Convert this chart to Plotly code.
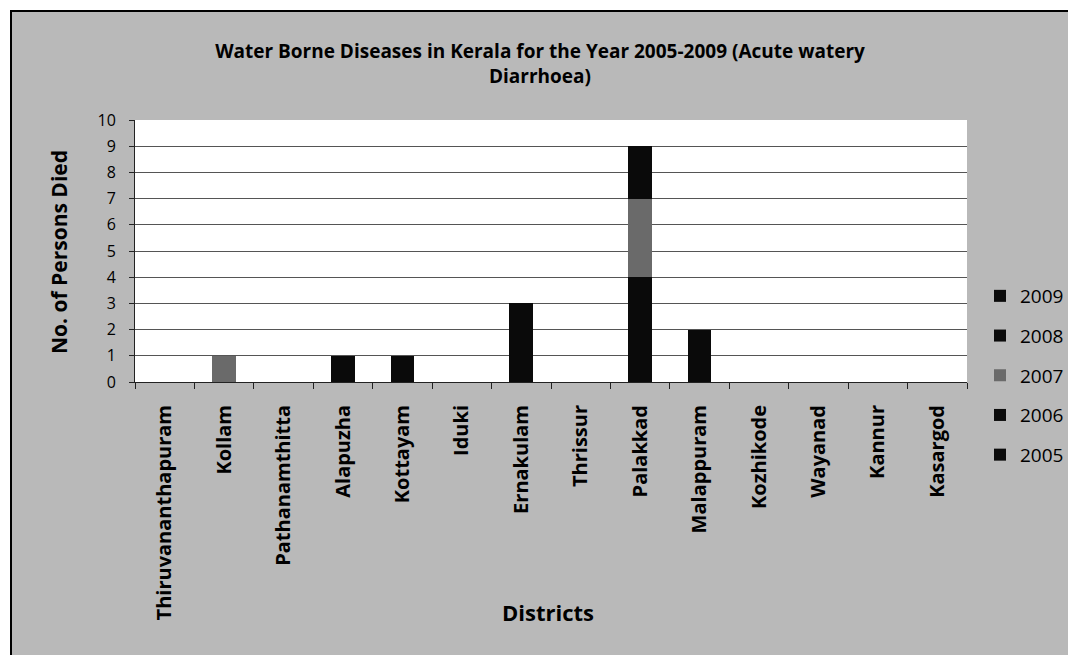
import plotly.graph_objects as go

districts = ["Thiruvananthapuram", "Kollam", "Pathanamthitta", "Alapuzha", "Kottayam",
             "Iduki", "Ernakulam", "Thrissur", "Palakkad", "Malappuram", "Kozhikode",
             "Wayanad", "Kannur", "Kasargod"]
years = ["2005", "2006", "2007", "2008", "2009"]
deaths_2005 = [0, 0, 0, 1, 1, 0, 3, 0, 2, 2, 0, 0, 0, 0]
deaths_2006 = [0, 0, 0, 0, 0, 0, 0, 0, 2, 0, 0, 0, 0, 0]
deaths_2007 = [0, 1, 0, 0, 0, 0, 0, 0, 3, 0, 0, 0, 0, 0]
deaths_2008 = [0, 0, 0, 0, 0, 0, 0, 0, 1, 0, 0, 0, 0, 0]
deaths_2009 = [0, 0, 0, 0, 0, 0, 0, 0, 1, 0, 0, 0, 0, 0]
y_ticks = list(range(0, 11))

series = [deaths_2005, deaths_2006, deaths_2007, deaths_2008, deaths_2009]
colors = ["#0a0a0a", "#0a0a0a", "#6a6a6a", "#0a0a0a", "#0a0a0a"]
ranks = [5, 4, 3, 2, 1]

FONT = "Open Sans"

fig = go.Figure()
for yr, vals, col, rk in zip(years, series, colors, ranks):
    fig.add_trace(go.Bar(
        x=districts, y=vals, name=yr, legendgroup=yr, legendrank=rk,
        marker=dict(color=col, line=dict(width=0)),
    ))

# plot area in pixels: left 135, right 967, top 120, bottom 382
L, R, T, B = 135, 967, 120, 382
W, H = 1068, 655
pw, ph = R - L, B - T

def px(x):
    return (x - L) / pw

def py(y):
    return (B - y) / ph

fig.update_layout(
    width=W, height=H,
    margin=dict(l=L, r=W - R, t=T, b=H - B, pad=0, autoexpand=False),
    paper_bgcolor="white",
    plot_bgcolor="rgba(0,0,0,0)",
    barmode="stack",
    bargap=0.6,
    font=dict(family=FONT, color="black"),
    title=dict(
        text="<b>Water Borne Diseases in Kerala for the Year 2005-2009 (Acute watery<br>Diarrhoea)</b>",
        x=540 / W, xanchor="center", xref="container",
        y=1 - 58 / H, yanchor="top", yref="container",
        font=dict(family=FONT, size=19, color="black"),
    ),
    legend=dict(
        x=px(980), xanchor="left", y=py(277), yanchor="top",
        traceorder="grouped", tracegroupgap=12,
        font=dict(family=FONT, size=19, color="black"),
        bgcolor="rgba(0,0,0,0)", itemwidth=30,
    ),
    xaxis=dict(
        automargin=False,
        showline=True, linecolor="#222", linewidth=1,
        ticks="outside", tickson="boundaries", ticklen=6, tickcolor="#222",
        tickangle=-90, tickfont=dict(family=FONT, size=20, color="black", weight="bold"),
        ticklabelstandoff=14,
        showgrid=False,
    ),
    yaxis=dict(
        automargin=False,
        range=[0, 10], tickvals=y_ticks, ticks="outside", ticklen=5, tickcolor="#222",
        showline=True, linecolor="#222", linewidth=1,
        showgrid=True, gridcolor="#555", gridwidth=1,
        tickfont=dict(family=FONT, size=16, color="black"),
        ticklabelstandoff=10,
        zeroline=False,
    ),
    shapes=[
        dict(type="rect", xref="paper", yref="paper", layer="below",
             x0=px(11), x1=px(1110), y0=py(700), y1=py(11),
             fillcolor="#b9b9b9", line=dict(color="black", width=2)),
        dict(type="rect", xref="paper", yref="paper", layer="below",
             x0=0, x1=1, y0=0, y1=1,
             fillcolor="white", line=dict(width=0)),
    ],
    annotations=[
        dict(text="<b>No. of Persons Died</b>", xref="paper", yref="paper",
             x=px(59), y=py(252), textangle=-90, showarrow=False,
             xanchor="center", yanchor="middle",
             font=dict(family=FONT, size=21, color="black")),
        dict(text="<b>Districts</b>", xref="paper", yref="paper",
             x=px(548), y=py(612), showarrow=False,
             xanchor="center", yanchor="middle",
             font=dict(family=FONT, size=22, color="black")),
    ],
)

fig.write_html(
    "out.html",
    config={"displayModeBar": False},
    post_script="document.body.style.margin='0';document.body.style.overflow='hidden';",
)
